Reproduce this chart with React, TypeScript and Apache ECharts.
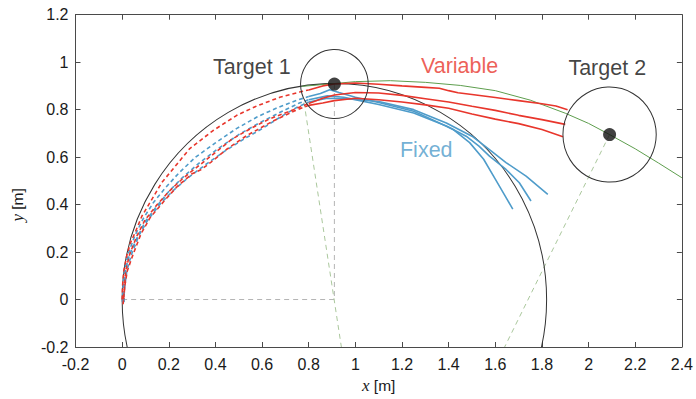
import React, { useEffect, useRef } from 'react';
import * as echarts from 'echarts';

// Axis ranges
const X_MIN = -0.2;
const X_MAX = 2.4;
const Y_MIN = -0.2;
const Y_MAX = 1.2;
const TICK_STEP = 0.2;

// "Variable" trajectories (red): dashed approach, then solid after Target 1
const variableDashed: number[][][] = [
  [[0, 0], [0.002, 0.06], [0.007, 0.12], [0.02, 0.185], [0.036, 0.24], [0.056, 0.283], [0.085, 0.352], [0.128, 0.423], [0.17, 0.493], [0.228, 0.562], [0.29, 0.636], [0.39, 0.712], [0.49, 0.775], [0.576, 0.815], [0.676, 0.852], [0.761, 0.874], [0.8, 0.883]],
  [[0.004, -0.02], [0.01, 0.05], [0.015, 0.12], [0.032, 0.19], [0.062, 0.265], [0.098, 0.335], [0.15, 0.4], [0.2, 0.455], [0.26, 0.51], [0.33, 0.565], [0.4, 0.62], [0.47, 0.675], [0.55, 0.72], [0.63, 0.76], [0.71, 0.79], [0.8, 0.826]],
  [[0.006, 0], [0.012, 0.06], [0.022, 0.12], [0.045, 0.185], [0.08, 0.275], [0.12, 0.345], [0.18, 0.415], [0.235, 0.475], [0.3, 0.53], [0.34, 0.548], [0.38, 0.578], [0.447, 0.632], [0.533, 0.69], [0.647, 0.752], [0.74, 0.795], [0.8, 0.818]],
];
const variableSolid: number[][][] = [
  [[0.8, 0.883], [0.86, 0.9], [0.91, 0.908], [1.0, 0.912], [1.1, 0.907], [1.2, 0.9], [1.3, 0.894], [1.36, 0.89], [1.4, 0.88], [1.44, 0.871], [1.5, 0.864], [1.6, 0.851], [1.7, 0.838], [1.8, 0.825], [1.86, 0.815], [1.91, 0.8]],
  [[0.8, 0.826], [0.86, 0.848], [0.91, 0.862], [1.0, 0.872], [1.1, 0.87], [1.2, 0.86], [1.3, 0.846], [1.4, 0.832], [1.5, 0.814], [1.6, 0.797], [1.7, 0.776], [1.8, 0.758], [1.9, 0.738]],
  [[0.8, 0.818], [0.86, 0.828], [0.91, 0.838], [1.0, 0.848], [1.1, 0.842], [1.2, 0.832], [1.3, 0.82], [1.4, 0.806], [1.5, 0.782], [1.6, 0.76], [1.7, 0.741], [1.8, 0.716], [1.89, 0.686]],
];

// "Fixed" trajectories (blue)
const fixedDashed: number[][][] = [
  [[0.001, -0.01], [0.004, 0.06], [0.01, 0.12], [0.025, 0.19], [0.055, 0.27], [0.09, 0.34], [0.135, 0.41], [0.185, 0.47], [0.245, 0.535], [0.315, 0.6], [0.4, 0.66], [0.49, 0.72], [0.58, 0.77], [0.67, 0.81], [0.75, 0.84], [0.8, 0.855]],
  [[0.008, -0.01], [0.009, 0.06], [0.014, 0.12], [0.03, 0.185], [0.064, 0.26], [0.1, 0.33], [0.15, 0.395], [0.2, 0.455], [0.26, 0.515], [0.33, 0.575], [0.41, 0.635], [0.5, 0.695], [0.59, 0.745], [0.68, 0.79], [0.76, 0.828], [0.8, 0.842]],
  [[0.005, -0.015], [0.012, 0.06], [0.02, 0.12], [0.04, 0.19], [0.072, 0.27], [0.11, 0.335], [0.165, 0.405], [0.22, 0.46], [0.285, 0.515], [0.36, 0.57], [0.44, 0.625], [0.52, 0.675], [0.6, 0.72], [0.68, 0.77], [0.75, 0.81], [0.8, 0.832]],
];
const fixedSolid: number[][][] = [
  [[0.8, 0.855], [0.85, 0.868], [0.89, 0.884], [0.93, 0.872], [1.0, 0.852], [1.1, 0.83], [1.25, 0.793], [1.33, 0.758], [1.42, 0.716], [1.49, 0.661], [1.55, 0.591], [1.6, 0.507], [1.64, 0.44], [1.675, 0.381]],
  [[0.8, 0.842], [0.88, 0.858], [0.95, 0.852], [1.02, 0.838], [1.1, 0.822], [1.25, 0.786], [1.39, 0.731], [1.475, 0.688], [1.53, 0.646], [1.575, 0.604], [1.646, 0.548], [1.703, 0.492], [1.753, 0.415]],
  [[0.8, 0.832], [0.88, 0.848], [0.95, 0.846], [1.02, 0.842], [1.1, 0.834], [1.25, 0.8], [1.39, 0.744], [1.5, 0.688], [1.575, 0.632], [1.646, 0.577], [1.732, 0.52], [1.825, 0.443]],
];

// Reference path (green) through both targets
const referencePath: number[][] = [
  [0.77, 0.898], [0.91, 0.91], [1.0, 0.918], [1.15, 0.922], [1.3, 0.915], [1.45, 0.902], [1.6, 0.88], [1.75, 0.84], [1.9, 0.785], [2.0, 0.742], [2.09, 0.695], [2.2, 0.635], [2.3, 0.575], [2.4, 0.513],
];

// Circles: [centerX, centerY, radius]
const reachCircle: number[][] = [[0.91, 0, 0.91]];
const targetCircles: number[][] = [[0.91, 0.908, 0.145], [2.09, 0.695, 0.2]];
const targetCenters: number[][] = [[0.91, 0.908], [2.09, 0.695]];

// Guide lines
const grayGuides: number[][][] = [
  [[0, 0], [0.91, 0]],
  [[0.91, 0.908], [0.91, 0]],
];
const greenGuides: number[][][] = [
  [[0.78, 0.83], [0.94, -0.2]],
  [[2.09, 0.695], [1.64, -0.2]],
];

// Text annotations
const labelTexts = ['Target 1', 'Variable', 'Target 2', 'Fixed'];
const labelPositions: number[][] = [[0.556, 0.981], [1.447, 0.985], [2.08, 0.975], [1.304, 0.632]];
const labelColors = ['#111111', '#e8362c', '#111111', '#4f9cca'];

const RED = '#e8362c';
const BLUE = '#4f9cca';
const FONT = "'Liberation Sans', Arial, sans-serif";

function circleSeries(data: number[][], color: string, width: number, z: number) {
  return {
    type: 'custom',
    clip: true,
    silent: true,
    z,
    data,
    encode: { x: 0, y: 1 },
    renderItem: (_params: any, api: any) => {
      const cx = api.value(0);
      const cy = api.value(1);
      const r = api.value(2);
      const p = api.coord([cx, cy]);
      const s = api.size([r, r]);
      return {
        type: 'circle',
        x: p[0],
        y: p[1],
        scaleY: s[1] / s[0],
        shape: { cx: 0, cy: 0, r: s[0] },
        style: { fill: 'none', stroke: color, lineWidth: width, strokeNoScale: true },
      };
    },
  };
}

function lineSeries(data: number[][], color: string, width: number, dashed: any, z: number) {
  return {
    type: 'line',
    data,
    symbol: 'none',
    showSymbol: false,
    silent: true,
    z,
    lineStyle: { color, width, type: dashed },
  };
}

export default function App() {
  const ref = useRef<HTMLDivElement>(null);
  useEffect(() => {
    if (!ref.current) return;
    const chart = echarts.init(ref.current, undefined, { renderer: 'svg' });
    const series: any[] = [];
    grayGuides.forEach((g) => series.push(lineSeries(g, '#b4b4b4', 1, [5, 4], 1)));
    greenGuides.forEach((g) => series.push(lineSeries(g, '#aac79c', 1, [5, 4], 1)));
    series.push(circleSeries(reachCircle, '#333333', 1, 2));
    series.push(lineSeries(referencePath, '#5e9e4e', 1, 'solid', 2));
    fixedDashed.forEach((d) => series.push(lineSeries(d, BLUE, 1.6, [4, 3], 3)));
    variableDashed.forEach((d) => series.push(lineSeries(d, RED, 1.6, [4, 3], 3)));
    fixedSolid.forEach((d) => series.push(lineSeries(d, BLUE, 1.6, 'solid', 4)));
    variableSolid.forEach((d) => series.push(lineSeries(d, RED, 1.6, 'solid', 4)));
    series.push(circleSeries(targetCircles, '#333333', 1, 5));
    series.push({
      type: 'scatter',
      data: targetCenters,
      symbol: 'circle',
      symbolSize: 13,
      silent: true,
      z: 6,
      itemStyle: { color: '#111111' },
    });
    series.push({
      type: 'scatter',
      silent: true,
      z: 7,
      symbolSize: 1,
      itemStyle: { color: 'rgba(0,0,0,0)' },
      data: labelPositions.map((p, i) => ({
        value: p,
        label: {
          show: true,
          position: 'inside',
          formatter: labelTexts[i],
          color: labelColors[i],
          fontSize: 21.5,
          fontFamily: FONT,
        },
      })),
    });

    const axisCommon = {
      type: 'value',
      splitLine: { show: false },
      axisLine: { show: true, onZero: false, lineStyle: { color: '#4a4a4a', width: 1 } },
      axisTick: { show: true, inside: true, length: 5, lineStyle: { color: '#4a4a4a' } },
    };
    const fmt = (v: number) => String(Math.round(v * 10) / 10);

    chart.setOption({
      animation: false,
      backgroundColor: '#ffffff',
      grid: { left: 75.5, right: 13, top: 14.7, bottom: 50.7, containLabel: false },
      xAxis: [
        {
          ...axisCommon,
          min: X_MIN,
          max: X_MAX,
          interval: TICK_STEP,
          position: 'bottom',
          axisLabel: { color: '#1a1a1a', fontSize: 16, margin: 9, fontFamily: FONT, formatter: fmt },
          name: '{i|x} [m]',
          nameLocation: 'middle',
          nameGap: 30,
          nameTextStyle: {
            color: '#1a1a1a',
            fontSize: 15.5,
            fontFamily: FONT,
            rich: { i: { fontStyle: 'italic', fontFamily: "'Liberation Serif', serif", fontSize: 17, color: '#1a1a1a' } },
          },
        },
        {
          ...axisCommon,
          min: X_MIN,
          max: X_MAX,
          interval: TICK_STEP,
          position: 'top',
          axisLabel: { show: false },
        },
      ],
      yAxis: [
        {
          ...axisCommon,
          min: Y_MIN,
          max: Y_MAX,
          interval: TICK_STEP,
          position: 'left',
          axisLabel: { color: '#1a1a1a', fontSize: 16, margin: 7, fontFamily: FONT, formatter: fmt },
          name: '{i|y} [m]',
          nameLocation: 'middle',
          nameGap: 50,
          nameTextStyle: {
            color: '#1a1a1a',
            fontSize: 15.5,
            fontFamily: FONT,
            padding: [0, 48, 0, 0],
            rich: { i: { fontStyle: 'italic', fontFamily: "'Liberation Serif', serif", fontSize: 17, color: '#1a1a1a' } },
          },
        },
        {
          ...axisCommon,
          min: Y_MIN,
          max: Y_MAX,
          interval: TICK_STEP,
          position: 'right',
          axisLabel: { show: false },
        },
      ],
      series,
    });
    return () => chart.dispose();
  }, []);

  return (
    <div
      ref={ref}
      style={{ position: 'fixed', left: 0, top: 0, width: 696, height: 399, background: '#fff' }}
    />
  );
}
